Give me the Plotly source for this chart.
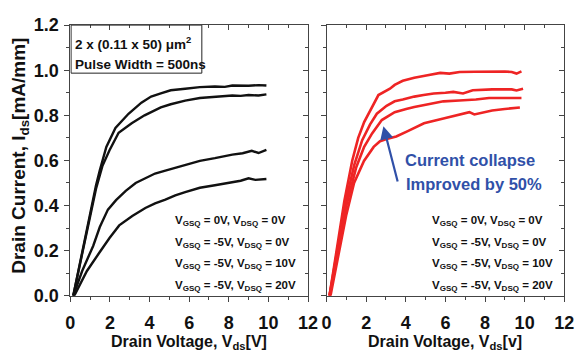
import plotly.graph_objects as go

# ---------------- data ----------------
# Left panel (black) - drain current vs drain voltage
b1_v = [0.15, 0.5, 0.9, 1.16, 1.3, 1.49, 1.82, 2.28, 2.94, 3.59, 4.08, 4.57, 5.07, 5.8, 6.54, 7.3, 7.8, 8.18, 8.6, 9.0, 9.5, 9.9]
b1_i = [0.0, 0.15, 0.32, 0.43, 0.49, 0.556, 0.66, 0.744, 0.807, 0.856, 0.883, 0.897, 0.911, 0.918, 0.925, 0.928, 0.926, 0.932, 0.93, 0.931, 0.934, 0.932]
b2_v = [0.15, 0.5, 0.9, 1.16, 1.3, 1.62, 1.98, 2.44, 3.1, 3.75, 4.08, 4.57, 5.07, 5.8, 6.54, 7.3, 8.18, 8.6, 9.0, 9.5, 9.9]
b2_i = [0.0, 0.145, 0.31, 0.42, 0.475, 0.575, 0.645, 0.723, 0.765, 0.8, 0.814, 0.835, 0.849, 0.865, 0.877, 0.882, 0.888, 0.886, 0.89, 0.888, 0.893]
b3_v = [0.15, 0.6, 1.16, 1.49, 1.9, 2.31, 2.8, 3.3, 3.79, 4.28, 4.8, 5.3, 5.8, 6.54, 7.3, 8.18, 8.7, 9.16, 9.5, 9.9]
b3_i = [0.0, 0.11, 0.222, 0.305, 0.382, 0.424, 0.465, 0.5, 0.521, 0.542, 0.555, 0.568, 0.58, 0.598, 0.61, 0.626, 0.632, 0.643, 0.633, 0.647]
b4_v = [0.2, 0.84, 1.49, 1.98, 2.47, 3.13, 3.79, 4.28, 4.8, 5.3, 5.8, 6.54, 7.3, 8.18, 8.6, 9.0, 9.34, 9.9]
b4_i = [0.0, 0.11, 0.194, 0.256, 0.312, 0.354, 0.389, 0.41, 0.426, 0.445, 0.46, 0.479, 0.49, 0.503, 0.51, 0.521, 0.514, 0.518]

# Right panel (red)
r1_v = [0.15, 0.5, 0.9, 1.3, 1.6, 1.9, 2.2, 2.62, 3.2, 3.44, 3.85, 4.43, 5.1, 5.74, 6.2, 6.72, 7.5, 8.36, 9.0, 9.35, 9.59, 9.84]
r1_i = [0.0, 0.2, 0.42, 0.6, 0.7, 0.77, 0.821, 0.89, 0.918, 0.935, 0.953, 0.967, 0.978, 0.988, 0.985, 0.992, 0.993, 0.995, 0.994, 0.992, 0.985, 0.995]
r2_v = [0.15, 0.55, 0.95, 1.4, 1.8, 2.2, 2.54, 3.03, 3.44, 3.85, 4.43, 4.9, 5.41, 6.0, 6.4, 6.89, 7.38, 8.36, 9.35, 9.59, 9.92]
r2_i = [0.0, 0.2, 0.41, 0.58, 0.69, 0.76, 0.807, 0.842, 0.862, 0.87, 0.883, 0.89, 0.897, 0.9, 0.904, 0.897, 0.911, 0.915, 0.915, 0.91, 0.918]
r3_v = [0.15, 0.6, 1.0, 1.5, 1.9, 2.3, 2.79, 3.36, 3.44, 4.02, 4.43, 5.2, 5.9, 6.7, 7.54, 8.2, 9.0, 9.84]
r3_i = [0.0, 0.2, 0.4, 0.57, 0.66, 0.72, 0.779, 0.807, 0.814, 0.828, 0.837, 0.85, 0.862, 0.866, 0.87, 0.877, 0.876, 0.877]
r4_v = [0.2, 0.65, 1.0, 1.39, 1.89, 2.38, 2.7, 3.03, 3.52, 4.1, 4.67, 4.92, 5.9, 6.89, 7.21, 7.46, 8.36, 9.0, 9.76]
r4_i = [0.0, 0.2, 0.36, 0.5, 0.598, 0.66, 0.685, 0.695, 0.706, 0.73, 0.754, 0.765, 0.786, 0.807, 0.814, 0.804, 0.821, 0.828, 0.835]

x_ticks = [0, 2, 4, 6, 8, 10, 12]
y_ticks = [0.0, 0.2, 0.4, 0.6, 0.8, 1.0, 1.2]
legend_labels = [
    "V<sub>GSQ</sub> = 0V, V<sub>DSQ</sub> = 0V",
    "V<sub>GSQ</sub> = -5V, V<sub>DSQ</sub> = 0V",
    "V<sub>GSQ</sub> = -5V, V<sub>DSQ</sub> = 10V",
    "V<sub>GSQ</sub> = -5V, V<sub>DSQ</sub> = 20V",
]
legend_y = [0.332, 0.236, 0.14, 0.044]
box_lines = ["2 x (0.11 x 50) \u03bcm<sup>2</sup>", "Pulse Width = 500ns"]
note_lines = ["Current collapse", "Improved by 50%"]

# ---------------- figure ----------------
W, H = 584, 352
L1, R1 = 67, 311
L2, R2 = 330, 574
T, B = 16, 303
dom_x1 = [L1 / W, R1 / W]
dom_x2 = [L2 / W, R2 / W]
dom_y = [1 - B / H, 1 - T / H]

BLACK = "#111111"
RED = "#EE2424"
BLUE = "#3050A8"
FONT = "Liberation Sans, Arial"
AX = "#444444"

fig = go.Figure()
for v, i in [(b1_v, b1_i), (b2_v, b2_i), (b3_v, b3_i), (b4_v, b4_i)]:
    fig.add_trace(go.Scatter(x=v, y=i, mode="lines", line=dict(color=BLACK, width=2.4),
                             xaxis="x", yaxis="y", showlegend=False, hoverinfo="skip"))
for v, i in [(r1_v, r1_i), (r2_v, r2_i), (r3_v, r3_i), (r4_v, r4_i)]:
    fig.add_trace(go.Scatter(x=v, y=i, mode="lines", line=dict(color=RED, width=2.6),
                             xaxis="x2", yaxis="y2", showlegend=False, hoverinfo="skip"))
# dummy traces so overlay axes render
for xa, ya in [("x3", "y"), ("x", "y3"), ("x4", "y2"), ("x2", "y4")]:
    fig.add_trace(go.Scatter(x=[None], y=[None], xaxis=xa, yaxis=ya, showlegend=False, hoverinfo="skip"))

tickfont = dict(family=FONT, size=18, color="#111111", weight="bold")

def xbase(dom, anchor):
    return dict(domain=dom, anchor=anchor, range=[0, 12], tickvals=x_ticks, ticktext=[str(t) for t in x_ticks],
                ticks="outside", ticklen=5, tickwidth=1, tickcolor=AX, ticklabelstandoff=6,
                minor=dict(ticks="outside", ticklen=3, dtick=1, tick0=0, tickcolor=AX, showgrid=False),
                showline=True, linecolor=AX, linewidth=1, mirror=True,
                showgrid=False, zeroline=False, tickfont=tickfont, fixedrange=True)

def ybase(dom, anchor, labels):
    return dict(domain=dom, anchor=anchor, range=[0, 1.2], tickvals=y_ticks,
                ticktext=["%.1f" % t for t in y_ticks], showticklabels=labels,
                ticks="outside", ticklen=5, tickwidth=1, tickcolor=AX, ticklabelstandoff=2,
                minor=dict(ticks="outside", ticklen=3, dtick=0.1, tick0=0, tickcolor=AX, showgrid=False),
                showline=True, linecolor=AX, linewidth=1, mirror=True,
                showgrid=False, zeroline=False, tickfont=tickfont, fixedrange=True)

def xtop(over, anchor, dom):
    return dict(overlaying=over, anchor=anchor, side="top", range=[0, 12], tickvals=x_ticks, domain=dom,
                showticklabels=False, ticks="inside", ticklen=5, tickcolor=AX,
                minor=dict(ticks="inside", ticklen=3, dtick=1, tick0=0, tickcolor=AX, showgrid=False),
                showline=False, showgrid=False, zeroline=False, fixedrange=True)

def yright(over, anchor):
    return dict(overlaying=over, anchor=anchor, side="right", range=[0, 1.2], tickvals=y_ticks, domain=dom_y,
                showticklabels=False, ticks="inside", ticklen=5, tickcolor=AX,
                minor=dict(ticks="inside", ticklen=3, dtick=0.1, tick0=0, tickcolor=AX, showgrid=False),
                showline=False, showgrid=False, zeroline=False, fixedrange=True)

annotations = []
# axis titles
annotations.append(dict(text="Drain Current, I<sub>ds</sub>[mA/mm]", xref="paper", yref="paper",
                        x=16 / W, y=1 - 155 / H, textangle=-90, showarrow=False,
                        font=dict(family=FONT, size=19, color="#111", weight="bold"),
                        xanchor="center", yanchor="middle"))
for xr, unit in [("x", "V"), ("x2", "v")]:
    annotations.append(dict(text="Drain Voltage, V<sub>ds</sub>[%s]" % unit, xref=xr, yref="paper",
                            x=6, y=0.0, showarrow=False, yshift=-12,
                            font=dict(family=FONT, size=16, color="#111", weight="bold"),
                            xanchor="center", yanchor="bottom"))
# legend-like labels
for lab, yy in zip(legend_labels, legend_y):
    for xr, yr in [("x", "y"), ("x2", "y2")]:
        annotations.append(dict(text=lab, xref=xr, yref=yr, x=5.2, y=yy, showarrow=False,
                                xanchor="left", yanchor="middle",
                                font=dict(family=FONT, size=11.5, color="#111", weight="bold")))
# info box text
annotations.append(dict(text=box_lines[0], xref="x", yref="y", x=0.12, y=1.12, showarrow=False,
                        xanchor="left", yanchor="middle",
                        font=dict(family=FONT, size=13.5, color="#111", weight="bold")))
annotations.append(dict(text=box_lines[1], xref="x", yref="y", x=0.12, y=1.025, showarrow=False,
                        xanchor="left", yanchor="middle",
                        font=dict(family=FONT, size=13.5, color="#111", weight="bold")))
# blue note
annotations.append(dict(text=note_lines[0], xref="x2", yref="y2", x=3.84, y=0.6, showarrow=False,
                        xanchor="left", yanchor="middle",
                        font=dict(family=FONT, size=16.5, color=BLUE, weight="bold")))
annotations.append(dict(text=note_lines[1], xref="x2", yref="y2", x=3.9, y=0.494, showarrow=False,
                        xanchor="left", yanchor="middle",
                        font=dict(family=FONT, size=16.5, color=BLUE, weight="bold")))
annotations.append(dict(text="", xref="x2", yref="y2", x=2.87, y=0.752, axref="x2", ayref="y2",
                        ax=3.61, ay=0.5, showarrow=True, arrowhead=2, arrowsize=1.2, arrowwidth=2.2,
                        arrowcolor=BLUE))

shapes = [dict(type="rect", xref="x", yref="y", x0=0.04, x1=6.64, y0=0.987, y1=1.2,
               line=dict(color="#222", width=1), fillcolor="rgba(0,0,0,0)")]

fig.update_layout(
    width=W, height=H, margin=dict(l=0, r=0, t=0, b=0),
    paper_bgcolor="white", plot_bgcolor="white",
    xaxis=xbase(dom_x1, "y"), yaxis=ybase(dom_y, "x", True),
    xaxis2=xbase(dom_x2, "y2"), yaxis2=ybase(dom_y, "x2", False),
    xaxis3=xtop("x", "y", dom_x1), yaxis3=yright("y", "x"),
    xaxis4=xtop("x2", "y2", dom_x2), yaxis4=yright("y2", "x2"),
    annotations=annotations, shapes=shapes, showlegend=False,
)

fig.write_html("out.html")
